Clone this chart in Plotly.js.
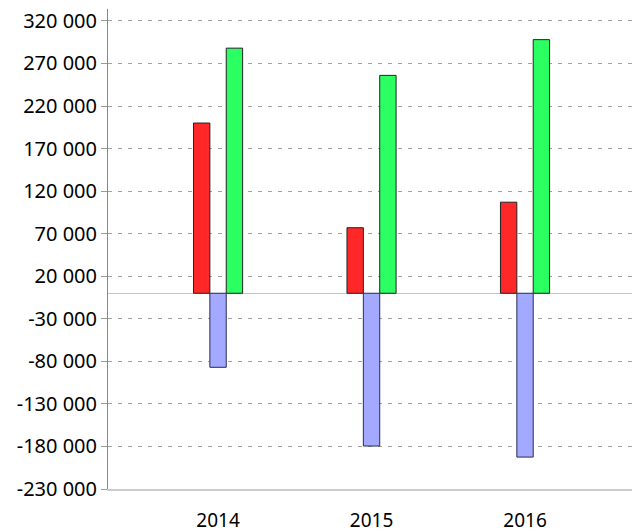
<!DOCTYPE html>
<html><head><meta charset="utf-8">
<script src="https://cdn.plot.ly/plotly-3.0.1.min.js"></script>
<style>html,body{margin:0;padding:0;background:#fff}#chart{width:632px;height:532px}</style>
</head><body><div id="chart"></div>
<script>
const years = ['2014', '2015', '2016'];
const redValues = [200000, 77000, 107000];
const blueValues = [-87000, -179500, -192500];
const greenValues = [288000, 256000, 298000];
const yTickValues = [-230000, -180000, -130000, -80000, -30000, 20000, 70000, 120000, 170000, 220000, 270000, 320000];
const yTickLabels = ['-230 000', '-180 000', '-130 000', '-80 000', '-30 000', '20 000', '70 000', '120 000', '170 000', '220 000', '270 000', '320 000'];

const lineStyle = {color: '#222', width: 1};
const traces = [
  {type: 'bar', x: years, y: redValues, marker: {color: '#ff2727', line: lineStyle}, hoverinfo: 'none'},
  {type: 'bar', x: years, y: blueValues, marker: {color: '#a3a9ff', line: {color: '#2a2a55', width: 1}}, hoverinfo: 'none'},
  {type: 'bar', x: years, y: greenValues, marker: {color: '#2cff62', line: lineStyle}, hoverinfo: 'none'}
];

const layout = {
  width: 632, height: 532,
  margin: {l: 108, r: 0, t: 9, b: 43},
  paper_bgcolor: '#fff', plot_bgcolor: '#fff',
  showlegend: false,
  barmode: 'group', bargap: 0.68, bargroupgap: 0,
  font: {family: 'Noto Sans, Open Sans, sans-serif', color: '#000'},
  xaxis: {
    type: 'category', range: [-0.717, 2.697],
    showgrid: false, zeroline: false,
    showline: true, linecolor: '#cccccc', linewidth: 2,
    ticks: 'outside', ticklen: 13, tickcolor: 'rgba(0,0,0,0)',
    tickfont: {size: 19, color: '#000'}
  },
  yaxis: {
    range: [-230000, 334000],
    tickmode: 'array', tickvals: yTickValues, ticktext: yTickLabels,
    showgrid: true, gridcolor: '#a0a0a0', griddash: '4px,6px', gridwidth: 1,
    zeroline: true, zerolinecolor: '#c4c4c4', zerolinewidth: 1.5,
    showline: true, linecolor: '#888', linewidth: 1,
    ticks: 'outside', ticklen: 6, tickcolor: '#999',
    tickfont: {size: 20, color: '#000'}
  }
};
Plotly.newPlot('chart', traces, layout, {staticPlot: true});
</script></body></html>
